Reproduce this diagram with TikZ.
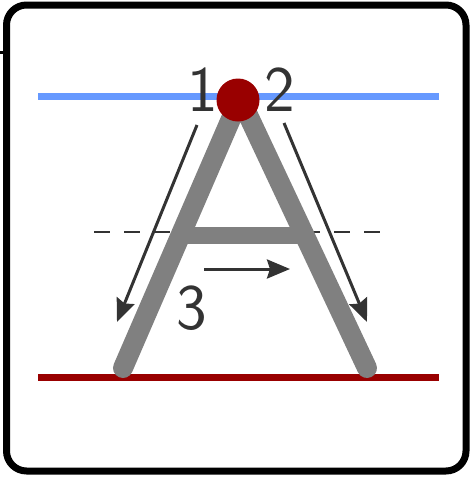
\documentclass[tikz,border=0pt]{standalone}
\usepackage{tikz}
\usetikzlibrary{arrows.meta, positioning}
\definecolor{GuideBlue}{RGB}{102, 153, 255}
\definecolor{BaseRed}{RGB}{153, 0, 0}
\definecolor{StrokeGray}{RGB}{128, 128, 128}
\definecolor{HintDark}{RGB}{51, 51, 51}

\tikzset{
  guideline/.style={line width=7pt},
  letterstroke/.style={StrokeGray, line width=20pt},
  hintarrow/.style={HintDark, line width=3pt, -{Stealth[length=23pt, width=19pt, inset=3pt]}},
  stepnum/.style={HintDark, inner sep=0pt, font=\sffamily\fontsize{65}{65}\selectfont}
}

\begin{document}
\begin{tikzpicture}[x=1pt, y=-1pt]
    \path[use as bounding box] (0,0) rectangle (473,477);
    \draw[line width=7pt, rounded corners=20pt] (6.5,5) rectangle (466,471);
    \draw[line width=3pt] (0,52) -- (6,52);

    \coordinate (apex) at (240,98);
    \coordinate (footL) at (123,368);
    \coordinate (footR) at (367,368);
    \coordinate (barL) at (181,235);
    \coordinate (barR) at (304,235);

    \draw[HintDark, line width=2pt, dash pattern=on 16pt off 14pt] (94,232) -- (381,232);
    \draw[guideline, GuideBlue] (38,96) -- (439,96);
    \draw[guideline, BaseRed] (38,377) -- (439,377);

    \draw[letterstroke, line cap=round, line join=round] (footL) -- (apex) -- (footR);
    \draw[letterstroke, line width=17pt] (barL) -- (barR);
    \node[circle, fill=BaseRed, minimum size=43pt, inner sep=0pt] (dot) at (238,100) {};

    \node[stepnum] (num1) at (203,90) {1};
    \node[stepnum] (num2) at (280,90) {2};
    \node[stepnum] (num3) at (192,308) {3};

    \coordinate (from1) at (197,125);
    \coordinate (to1) at (117,322);
    \coordinate (from2) at (284,123);
    \coordinate (to2) at (367,322);
    \coordinate (from3) at (204,269);
    \coordinate (to3) at (290,269);
    \draw[hintarrow] (from1) -- (to1);
    \draw[hintarrow] (from2) -- (to2);
    \draw[hintarrow] (from3) -- (to3);
\end{tikzpicture}
\end{document}
